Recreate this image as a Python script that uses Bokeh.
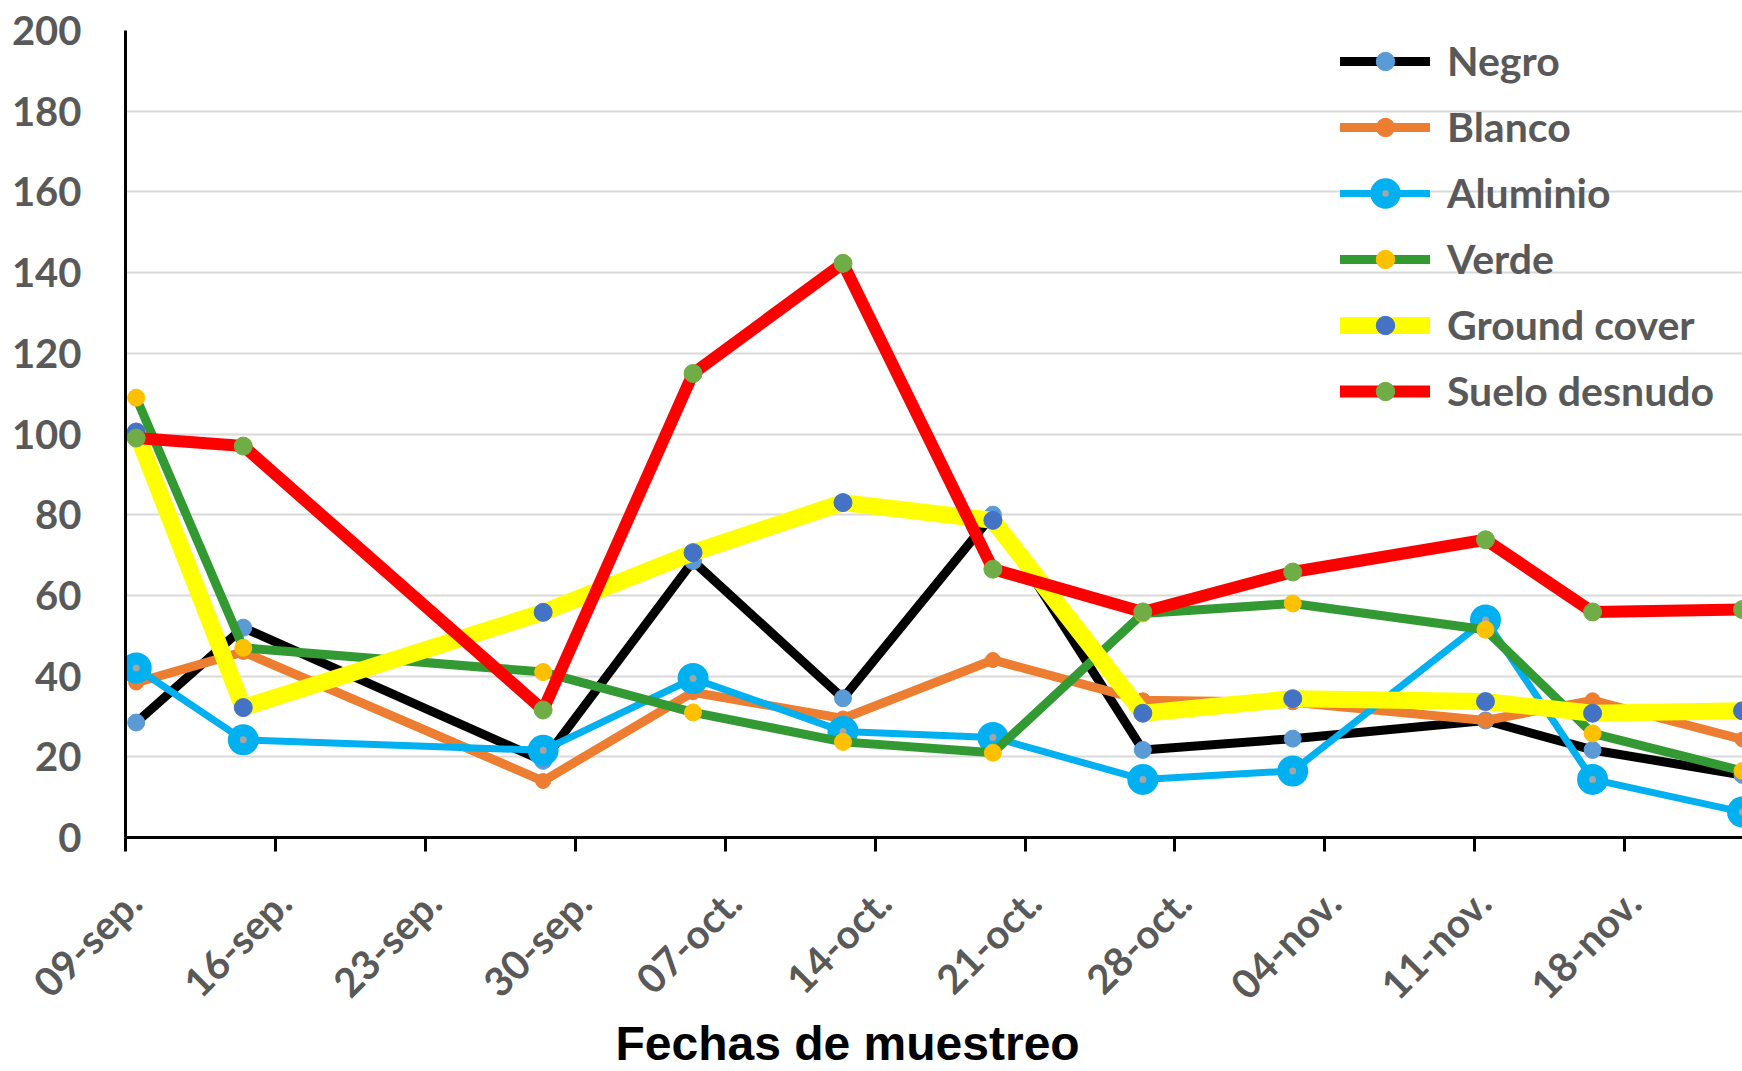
import math
from datetime import date

from bokeh.plotting import figure
from bokeh.models import Range1d, FixedTicker, LinearAxis, Title
from bokeh.embed import file_html
from bokeh.resources import INLINE

# ---------------- data ----------------
sample_dates = ["2019-09-09", "2019-09-14", "2019-09-28", "2019-10-05", "2019-10-12",
                "2019-10-19", "2019-10-26", "2019-11-02", "2019-11-11", "2019-11-16",
                "2019-11-23"]
tick_dates = ["2019-09-09", "2019-09-16", "2019-09-23", "2019-09-30", "2019-10-07",
              "2019-10-14", "2019-10-21", "2019-10-28", "2019-11-04", "2019-11-11",
              "2019-11-18"]
tick_labels = ["09-sep.", "16-sep.", "23-sep.", "30-sep.", "07-oct.", "14-oct.",
               "21-oct.", "28-oct.", "04-nov.", "11-nov.", "18-nov."]
y_ticks = [0, 20, 40, 60, 80, 100, 120, 140, 160, 180, 200]

negro = [28.5, 52, 19, 68.5, 34.5, 80, 21.7, 24.5, 29, 21.7, 15.5]
blanco = [38.4, 46, 14, 36, 29.5, 44, 34, 33.5, 29, 34, 24.3]
aluminio = [42, 24.2, 21.6, 39.4, 26.3, 24.8, 14.4, 16.5, 53.9, 14.4, 6.3]
verde = [109, 47, 41, 31, 23.7, 21, 55.5, 58, 51.5, 25.8, 16.5]
ground_cover = [100.5, 32.2, 55.8, 70.6, 83, 78.6, 30.8, 34.4, 33.7, 30.8, 31.4]
suelo_desnudo = [99, 97, 31.6, 115, 142.3, 66.5, 55.9, 65.8, 73.8, 55.9, 56.5]

series_names = ["Negro", "Blanco", "Aluminio", "Verde", "Ground cover", "Suelo desnudo"]
series_values = [negro, blanco, aluminio, verde, ground_cover, suelo_desnudo]
x_title = "Fechas de muestreo"

# ---------------- styles ----------------
styles = {
    "Negro": dict(lc="#000000", lw=9, mf="#5B9BD5", ml="#5B9BD5", ms=17, mlw=1),
    "Blanco": dict(lc="#ED7D31", lw=9, mf="#ED7D31", ml="#ED7D31", ms=15, mlw=1),
    "Aluminio": dict(lc="#00B0F0", lw=7, mf="#A5A5A5", ml="#00B0F0", ms=19, mlw=12),
    "Verde": dict(lc="#339933", lw=9, mf="#FFC000", ml="#FFC000", ms=17, mlw=1),
    "Ground cover": dict(lc="#FFFF00", lw=17, mf="#4472C4", ml="#4472C4", ms=18, mlw=1),
    "Suelo desnudo": dict(lc="#FF0000", lw=12, mf="#70AD47", ml="#70AD47", ms=18, mlw=1),
}

start = date.fromisoformat(sample_dates[0])
x_vals = [(date.fromisoformat(d) - start).days + 0.5 for d in sample_dates]
x_ticks = [(date.fromisoformat(d) - start).days for d in tick_dates]

X_END = 75.5
LABEL_SHIFT = 0.4  # days: rotated labels sit a little right of their tick

p = figure(width=1742, height=1071, output_backend="svg", toolbar_location=None,
           x_range=Range1d(0, X_END), y_range=Range1d(0, 200),
           min_border_left=125, min_border_right=0, min_border_top=30,
           min_border_bottom=234)
p.outline_line_color = None
p.background_fill_color = "white"
p.border_fill_color = "white"
p.extra_x_ranges = {"lab": Range1d(-LABEL_SHIFT, X_END - LABEL_SHIFT)}

for name, vals in zip(series_names, series_values):
    s = styles[name]
    p.line(x_vals, vals, line_color=s["lc"], line_width=s["lw"], line_join="round",
           line_cap="round", legend_label=name)
    p.scatter(x_vals, vals, marker="circle", size=s["ms"], fill_color=s["mf"],
              line_color=s["ml"], line_width=s["mlw"], legend_label=name)

# grid
p.xgrid.visible = False
p.ygrid.grid_line_color = "#D9D9D9"
p.ygrid.grid_line_width = 2
p.ygrid.ticker = FixedTicker(ticks=y_ticks)

# y axis
ya = p.yaxis[0]
ya.ticker = FixedTicker(ticks=y_ticks)
ya.axis_line_color = "black"
ya.axis_line_width = 3
ya.major_tick_out = 0
ya.major_tick_in = 0
ya.minor_tick_out = 0
ya.minor_tick_in = 0
ya.major_label_standoff = 44
ya.major_label_text_font = "Lato"
ya.major_label_text_font_style = "bold"
ya.major_label_text_font_size = "40px"
ya.major_label_text_color = "#595959"

# x axis (line + tick marks)
xa = p.xaxis[0]
xa.ticker = FixedTicker(ticks=x_ticks)
xa.major_label_overrides = {t: "" for t in x_ticks}
xa.major_label_text_font_size = "0px"
xa.major_label_standoff = 0
xa.axis_line_color = "black"
xa.axis_line_width = 3
xa.major_tick_line_color = "black"
xa.major_tick_line_width = 3
xa.major_tick_out = 14
xa.major_tick_in = 0
xa.minor_tick_out = 0
xa.minor_tick_in = 0

# x tick labels (rotated)
xl = LinearAxis(x_range_name="lab", ticker=FixedTicker(ticks=x_ticks),
                major_label_overrides={t: lab for t, lab in zip(x_ticks, tick_labels)},
                axis_line_color=None, major_tick_out=0, major_tick_in=0,
                minor_tick_out=0, minor_tick_in=0,
                major_label_orientation=math.pi / 4, major_label_standoff=44,
                major_label_text_font="Lato", major_label_text_font_style="bold",
                major_label_text_font_size="40px", major_label_text_color="#595959")
p.add_layout(xl, "below")

# axis title
p.add_layout(Title(text=x_title, align="left", offset=490, standoff=-28,
                   text_font="Liberation Sans", text_font_style="bold",
                   text_font_size="48px", text_color="black"), "below")

# legend
lg = p.legend[0]
lg.location = (1215, 422)
lg.padding = 0
lg.margin = 0
lg.spacing = 17
lg.glyph_width = 90
lg.glyph_height = 46
lg.label_height = 46
lg.label_standoff = 17
lg.label_text_font = "Lato"
lg.label_text_font_style = "bold"
lg.label_text_font_size = "41px"
lg.label_text_color = "#595959"
lg.border_line_color = None
lg.background_fill_alpha = 0

open("out.html", "w").write(file_html(p, INLINE))
